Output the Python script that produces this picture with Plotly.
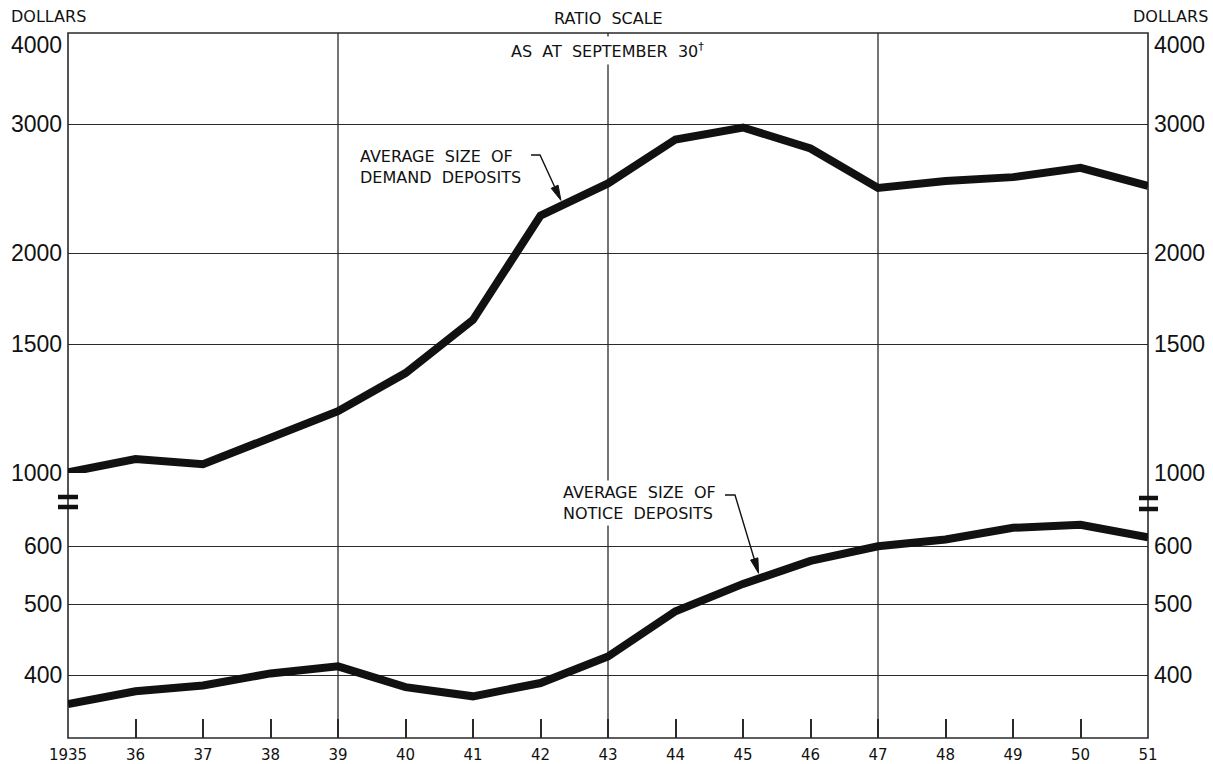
import math
import plotly.graph_objects as go

# ---------------- data ----------------
years = list(range(1935, 1952))
year_labels = ["1935"] + [str(y)[2:] for y in years[1:]]
demand = [1002, 1045, 1028, 1119, 1215, 1370, 1620, 2250, 2490, 2860, 2970, 2780, 2455, 2510, 2540, 2615, 2470]
notice = [365, 380, 387, 402, 411, 385, 374, 390, 424, 489, 533, 573, 600, 613, 636, 642, 617]
top_ticks = [1000, 1500, 2000, 3000, 4000]
bottom_ticks = [400, 500, 600]
grid_years = [1939, 1943, 1947]

# ---------------- geometry helpers ----------------
W, H = 1213, 764
ML, MR, MT, MB = 68, 65, 33, 26
PW, PH = W - ML - MR, H - MT - MB
split = (738 - 473) / PH          # fraction of plot height for lower panel
top_range = [3.0, math.log10(4000)]
px_per_dec = (473 - 33) / (top_range[1] - top_range[0])
bot_lo = math.log10(400) - (738 - 675) / px_per_dec
bot_range = [bot_lo, bot_lo + (738 - 473) / px_per_dec]
X0, X1 = years[0], years[-1]


def px2paper_x(px):
    return (px - ML) / PW


def px2paper_y(py):
    return (MT + PH - py) / PH


def year_to_px(x):
    return ML + (x - X0) / (X1 - X0) * PW


def px_to_year(px):
    return X0 + (px - ML) / PW * (X1 - X0)


def logv_to_py(logv, rng, bottom_px):
    return bottom_px - (logv - rng[0]) * px_per_dec


def interp_log(series, x):
    i = int(math.floor(x)) - X0
    f = x - math.floor(x)
    a, b = math.log10(series[i]), math.log10(series[i + 1])
    return a + (b - a) * f


FONT = "DejaVu Sans"
INK = "#111111"
GRID = "#2a2a2a"

fig = go.Figure()
fig.add_trace(go.Scatter(x=years, y=demand, mode="lines", xaxis="x", yaxis="y",
                         line=dict(color=INK, width=8), hoverinfo="x+y"))
fig.add_trace(go.Scatter(x=years, y=notice, mode="lines", xaxis="x2", yaxis="y2",
                         line=dict(color=INK, width=8), hoverinfo="x+y"))

shapes = []
# vertical grid lines
for gy in grid_years:
    shapes.append(dict(type="line", xref="x2", yref="paper", x0=gy, x1=gy, y0=0, y1=1,
                       line=dict(color=GRID, width=1.3), layer="below"))
# frame
shapes.append(dict(type="rect", xref="paper", yref="paper", x0=0, x1=1, y0=0, y1=1,
                   line=dict(color=GRID, width=1.6), layer="below"))
# axis break marks
for xa, xb, ya, yb in [(58, 78, 497, 507), (1139, 1158, 498, 509)]:
    for yy in (ya, yb):
        shapes.append(dict(type="line", xref="paper", yref="paper",
                           x0=px2paper_x(xa), x1=px2paper_x(xb),
                           y0=px2paper_y(yy), y1=px2paper_y(yy),
                           line=dict(color=INK, width=4.5), layer="above"))
# gap in 600 gridline around arrow
shapes.append(dict(type="line", xref="paper", yref="paper",
                   x0=px2paper_x(738), x1=px2paper_x(768),
                   y0=px2paper_y(544), y1=px2paper_y(544),
                   line=dict(color="white", width=3), layer="below"))


def leader(dash_start, tail, tip_year, tip_logv, rng, bottom_px):
    """Leader line: short dash, slanted line and a filled arrowhead ending on the curve."""
    tx = year_to_px(tip_year)
    ty = logv_to_py(tip_logv, rng, bottom_px)
    dx, dy = tx - tail[0], ty - tail[1]
    L = math.hypot(dx, dy)
    ux, uy = dx / L, dy / L
    tx, ty = tx - 5 * ux, ty - 5 * uy          # stand off from the thick line
    hl, hw = 15, 3.8
    bx, by = tx - hl * ux, ty - hl * uy
    px_, py_ = -uy, ux
    p = lambda x, y: f"{px2paper_x(x):.5f},{px2paper_y(y):.5f}"
    line_path = f"M {p(*dash_start)} L {p(*tail)} L {p(bx, by)}"
    head_path = f"M {p(tx, ty)} L {p(bx + hw * px_, by + hw * py_)} L {p(bx - hw * px_, by - hw * py_)} Z"
    return [
        dict(type="path", xref="paper", yref="paper", path=line_path,
             line=dict(color=INK, width=1.4), layer="above"),
        dict(type="path", xref="paper", yref="paper", path=head_path,
             line=dict(color=INK, width=1), fillcolor=INK, layer="above"),
    ]


xd = px_to_year(563)
shapes += leader((531, 155), (540, 155), xd, interp_log(demand, xd), top_range, 473)
xn = px_to_year(760)
shapes += leader((725, 495), (735, 495), xn, interp_log(notice, xn), bot_range, 738)

ann = []
ylab_font = dict(family="Liberation Sans", size=23, color=INK)
for v in top_ticks:
    ys = -12 if v == 4000 else 0
    ann.append(dict(text=str(v), xref="paper", yref="y", x=0, y=math.log10(v), xanchor="right",
                    yanchor="middle", xshift=-4, yshift=ys, showarrow=False, font=ylab_font))
    ann.append(dict(text=str(v), xref="paper", yref="y", x=1, y=math.log10(v), xanchor="left",
                    yanchor="middle", xshift=4, yshift=ys, showarrow=False, font=ylab_font))
for v in bottom_ticks:
    ann.append(dict(text=str(v), xref="paper", yref="y2", x=0, y=math.log10(v), xanchor="right",
                    yanchor="middle", xshift=-4, showarrow=False, font=ylab_font))
    ann.append(dict(text=str(v), xref="paper", yref="y2", x=1, y=math.log10(v), xanchor="left",
                    yanchor="middle", xshift=4, showarrow=False, font=ylab_font))

small = dict(family=FONT, size=16, color=INK)
ann.append(dict(text="DOLLARS", xref="paper", yref="paper", x=px2paper_x(9), y=px2paper_y(17),
                xanchor="left", yanchor="middle", showarrow=False, font=small))
ann.append(dict(text="DOLLARS", xref="paper", yref="paper", x=px2paper_x(1210), y=px2paper_y(17),
                xanchor="right", yanchor="middle", showarrow=False, font=small))
ann.append(dict(text="RATIO\u00a0 SCALE", xref="paper", yref="paper", x=px2paper_x(608), y=px2paper_y(18),
                xanchor="center", yanchor="middle", showarrow=False, font=small))
ann.append(dict(text="AS\u00a0 AT\u00a0 SEPTEMBER\u00a0 30<sup>†</sup>", xref="paper", yref="paper",
                x=px2paper_x(607), y=px2paper_y(50), xanchor="center", yanchor="middle",
                showarrow=False, font=small, bgcolor="white", borderpad=3))

label_font = dict(family=FONT, size=16, color=INK)
ann.append(dict(text="AVERAGE\u00a0 SIZE\u00a0 OF<br>DEMAND\u00a0 DEPOSITS", xref="paper", yref="paper",
                x=px2paper_x(358), y=px2paper_y(167), xanchor="left", yanchor="middle", align="left",
                showarrow=False, font=label_font))
ann.append(dict(text="AVERAGE\u00a0 SIZE\u00a0 OF<br>NOTICE\u00a0 DEPOSITS", xref="paper", yref="paper",
                x=px2paper_x(560), y=px2paper_y(503), xanchor="left", yanchor="middle", align="left",
                showarrow=False, font=label_font, bgcolor="white", borderpad=2))

fig.update_layout(
    width=W, height=H,
    margin=dict(l=ML, r=MR, t=MT, b=MB, autoexpand=False),
    paper_bgcolor="white", plot_bgcolor="white",
    showlegend=False,
    xaxis=dict(domain=[0, 1], anchor="y", range=[X0, X1], showticklabels=False, showgrid=False,
               zeroline=False, ticks="", showline=False, matches="x2"),
    xaxis2=dict(domain=[0, 1], anchor="y2", range=[X0, X1], tickmode="array", tickvals=years,
                ticktext=year_labels, ticks="inside", ticklen=19, tickwidth=1.5, tickcolor=GRID,
                tickfont=dict(family=FONT, size=15, color=INK), showgrid=False, zeroline=False,
                showline=False, automargin=False, ticklabelstandoff=6),
    yaxis=dict(type="log", domain=[split, 1], range=top_range, tickmode="array", tickvals=top_ticks,
               showticklabels=False, showgrid=True, gridcolor=GRID, gridwidth=1.3, zeroline=False,
               ticks="", showline=False),
    yaxis2=dict(type="log", domain=[0, split], range=bot_range, tickmode="array", tickvals=bottom_ticks,
                showticklabels=False, showgrid=True, gridcolor=GRID, gridwidth=1.3, zeroline=False,
                ticks="", showline=False),
    shapes=shapes,
    annotations=ann,
)

fig.write_html("out.html", config={"displayModeBar": False},
               post_script="document.body.style.margin='0px';")
